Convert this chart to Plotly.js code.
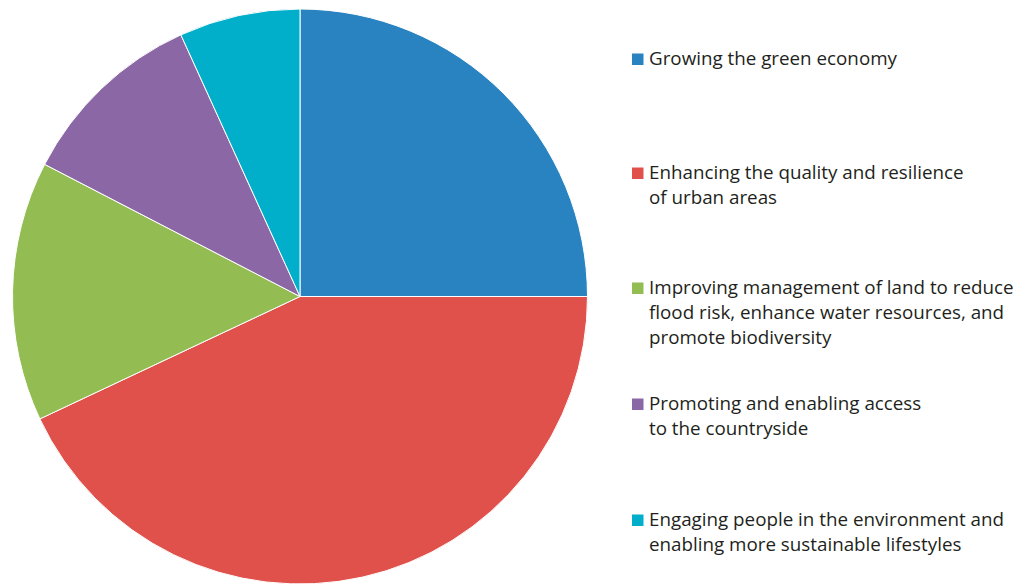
<!DOCTYPE html>
<html>
<head>
<meta charset="utf-8">
<script src="https://cdn.plot.ly/plotly-3.0.1.min.js"></script>
<style>html,body{margin:0;padding:0;background:#fff;}#chart{width:1027px;height:584px;}</style>
</head>
<body>
<div id="chart"></div>
<script>
const categories = [
  "Growing the green economy",
  "Enhancing the quality and resilience<br>of urban areas",
  "Improving management of land to reduce<br>flood risk, enhance water resources, and<br>promote biodiversity",
  "Promoting and enabling access<br>to the countryside",
  "Engaging people in the environment and<br>enabling more sustainable lifestyles"
];
const shares = [25.0, 43.0, 14.6, 10.6, 6.8];
const colors = ["#2a83c1", "#e0514b", "#93bc53", "#8b67a5", "#02afcb"];

const W = 1027, H = 584;
const px = x => x / W;
const py = y => 1 - y / H;

const trace = {
  type: "pie",
  labels: categories.map(c => c.replace(/<br>/g, " ")),
  values: shares,
  sort: false,
  direction: "clockwise",
  rotation: 0,
  marker: {colors: colors, line: {color: "#ffffff", width: 1}},
  textinfo: "none",
  hoverinfo: "label+percent",
  domain: {x: [px(12), px(588)], y: [py(584), py(9)]},
  showlegend: false
};

const annotations = [];
const shapes = [];
const baseY = [66, 180, 295, 411, 527];
const lineGap = 25;
categories.forEach((c, i) => {
  const lines = c.split("<br>");
  lines.forEach((ln, k) => {
    annotations.push({
      xref: "paper", yref: "paper",
      x: px(647), y: py(baseY[i] + k * lineGap - 8),
      xanchor: "left", yanchor: "middle",
      text: ln, showarrow: false,
      font: {family: "Open Sans, sans-serif", size: 18.8, color: "#231f20"}
    });
  });
  shapes.push({
    type: "rect", xref: "paper", yref: "paper",
    x0: px(632), x1: px(643.5), y0: py(baseY[i] - 12.5), y1: py(baseY[i] - 1),
    fillcolor: colors[i], line: {width: 0}
  });
});

const layout = {
  width: W, height: H,
  margin: {l: 0, r: 0, t: 0, b: 0},
  paper_bgcolor: "#ffffff",
  showlegend: false,
  annotations: annotations,
  shapes: shapes
};

Plotly.newPlot("chart", [trace], layout, {displayModeBar: false});
</script>
</body>
</html>
